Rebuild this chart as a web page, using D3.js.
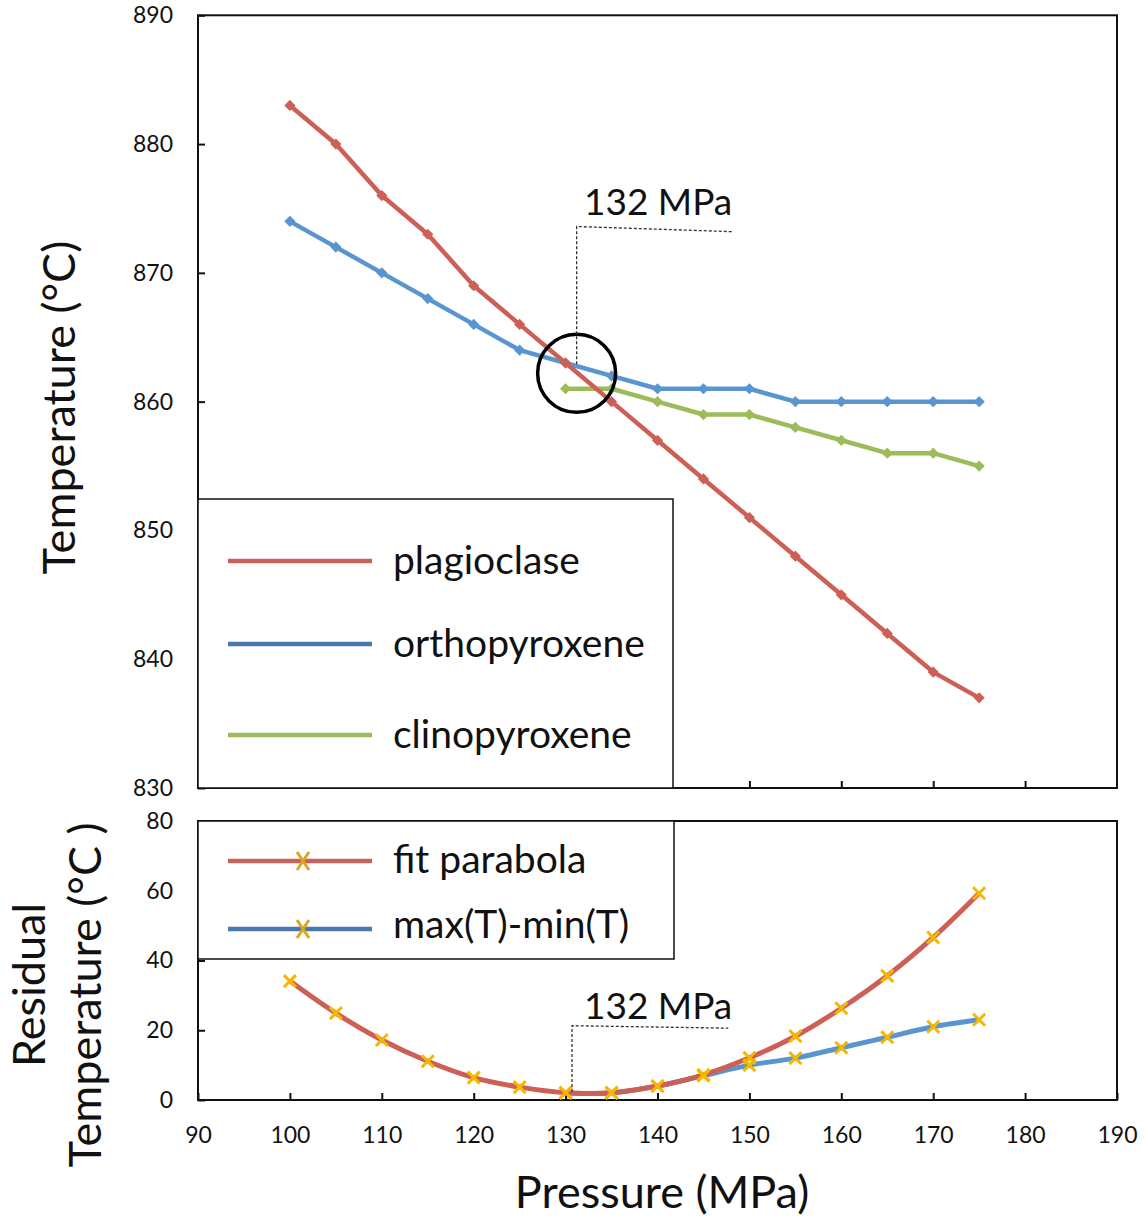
<!DOCTYPE html>
<html>
<head>
<meta charset="utf-8">
<script src="https://cdn.jsdelivr.net/npm/d3@7/dist/d3.min.js"></script>
<style>
  html, body { margin: 0; padding: 0; background: #fff; }
  svg { display: block; font-family: Lato, "Open Sans", sans-serif; }
</style>
</head>
<body>
<svg id="chart" width="1145" height="1219"></svg>
<script>
// Equilibrium temperatures of each mineral against pressure
const pressures = [100, 105, 110, 115, 120, 125, 130, 135, 140, 145, 150, 155, 160, 165, 170, 175];
const plagioclase   = [883, 880, 876, 873, 869, 866, 863, 860, 857, 854, 851, 848, 845, 842, 839, 837];
const orthopyroxene = [874, 872, 870, 868, 866, 864, 863, 862, 861, 861, 861, 860, 860, 860, 860, 860];
const clinoPressures = [130, 135, 140, 145, 150, 155, 160, 165, 170, 175];
const clinopyroxene  = [861, 861, 860, 859, 859, 858, 857, 856, 856, 855];

// Residual temperature
const fitParabola = [34.1, 24.9, 17.2, 11.1, 6.4, 3.7, 2.1, 2.1, 4.0, 7.2, 12.1, 18.3, 26.3, 35.6, 46.6, 59.3];
const rangePressures = [130, 135, 140, 145, 150, 155, 160, 165, 170, 175];
const maxMinT = [2, 2, 4, 7, 10, 12, 15, 18, 21, 23];

// Tick values
const pressureTicks = [90, 100, 110, 120, 130, 140, 150, 160, 170, 180, 190];
const temperatureTicks = [830, 840, 850, 860, 870, 880, 890];
const residualTicks = [0, 20, 40, 60, 80];

// Annotation for the crossing point
const crossLabel = "132 MPa";
const crossLabelP = 132;

const colors = {
  plag: "#cd6056", opx: "#5a95cf", cpx: "#9cbc5a",
  plagKey: "#c9625b", opxKey: "#4a78ad", cpxKey: "#9dba5f",
  marker: "#f5b800", markerKey: "#dba722"
};

const svg = d3.select("#chart");
const left = 198, right = 1117;

const x = d3.scaleLinear().domain([90, 190]).range([left, right]);
const yTop = d3.scaleLinear().domain([830, 890]).range([788, 15.3]);
const yBot = d3.scaleLinear().domain([0, 80]).range([1100, 821]);

function frame(y0, y1) {
  svg.append("rect")
    .attr("x", left).attr("y", y0)
    .attr("width", right - left).attr("height", y1 - y0)
    .attr("fill", "none").attr("stroke", "#111").attr("stroke-width", 2);
}

function styleAxis(g) {
  g.select(".domain").remove();
  g.selectAll(".tick line").attr("stroke", "#111").attr("stroke-width", 2);
  g.selectAll(".tick text").attr("fill", "#111")
    .style("font-size", "23px").style("font-family", "Lato, sans-serif");
}

// ---------- Top panel ----------
svg.append("g")
  .attr("transform", `translate(${left},0)`)
  .call(d3.axisLeft(yTop).tickValues(temperatureTicks).tickSize(-7).tickPadding(25).tickFormat(d3.format("d")))
  .call(styleAxis);

svg.append("g")
  .attr("transform", `translate(0,${yTop.range()[0]})`)
  .call(d3.axisBottom(x).tickValues(pressureTicks.slice(1, -1)).tickSize(-7).tickFormat(""))
  .call(styleAxis);

frame(yTop.range()[1], yTop.range()[0]);

const lineTop = (xs, ys) => d3.line().x((d, i) => x(xs[i])).y(d => yTop(d))(ys);
const diamond = d3.symbol().type(d3.symbolDiamond2).size(80);

function topSeries(xs, ys, color) {
  svg.append("path").attr("d", lineTop(xs, ys))
    .attr("fill", "none").attr("stroke", color).attr("stroke-width", 4.5)
    .attr("stroke-linejoin", "round");
  svg.append("g").selectAll("path").data(ys).join("path")
    .attr("d", diamond)
    .attr("transform", (d, i) => `translate(${x(xs[i])},${yTop(d)})`)
    .attr("fill", color);
}

topSeries(pressures, orthopyroxene, colors.opx);
topSeries(clinoPressures, clinopyroxene, colors.cpx);
topSeries(pressures, plagioclase, colors.plag);

// Legend (top)
const legTop = svg.append("g");
legTop.append("rect").attr("x", left).attr("y", 499).attr("width", 475).attr("height", 289)
  .attr("fill", "#fff").attr("stroke", "#111").attr("stroke-width", 1.5);
[
  { name: "plagioclase", color: colors.plagKey, y: 561 },
  { name: "orthopyroxene", color: colors.opxKey, y: 644 },
  { name: "clinopyroxene", color: colors.cpxKey, y: 735 }
].forEach(d => {
  legTop.append("line").attr("x1", 228).attr("x2", 372).attr("y1", d.y).attr("y2", d.y)
    .attr("stroke", d.color).attr("stroke-width", 4.5);
  legTop.append("text").attr("x", 393).attr("y", d.y + 13)
    .style("font-size", "39px").attr("fill", "#111").text(d.name);
});

// Crossing annotation (top)
svg.append("circle")
  .attr("cx", x(131.2)).attr("cy", yTop(862.2)).attr("r", 39)
  .attr("fill", "none").attr("stroke", "#000").attr("stroke-width", 3.5);
svg.append("path")
  .attr("d", d3.line()([[x(131.2), yTop(862.9)], [x(131.2), yTop(873.6)], [x(148.1), yTop(873.2)]]))
  .attr("fill", "none").attr("stroke", "#333").attr("stroke-width", 1.3).attr("stroke-dasharray", "3,2");
svg.append("text").attr("x", x(crossLabelP)).attr("y", yTop(874.5))
  .style("font-size", "37px").attr("fill", "#111").text(crossLabel);

svg.append("text")
  .attr("transform", `translate(75,${(yTop.range()[0] + yTop.range()[1]) / 2 + 6}) rotate(-90)`)
  .attr("text-anchor", "middle")
  .style("font-size", "45px").attr("fill", "#111").text("Temperature (°C)");

// ---------- Bottom panel ----------
svg.append("g")
  .attr("transform", `translate(${left},0)`)
  .call(d3.axisLeft(yBot).tickValues(residualTicks).tickSize(-7).tickPadding(25))
  .call(styleAxis);

svg.append("g")
  .attr("transform", `translate(0,${yBot.range()[0]})`)
  .call(d3.axisBottom(x).tickValues(pressureTicks).tickSize(-7).tickPadding(27))
  .call(styleAxis);

frame(yBot.range()[1], yBot.range()[0]);

const smooth = (xs, ys) => d3.line().curve(d3.curveCatmullRom.alpha(0.5))
  .x((d, i) => x(xs[i])).y(d => yBot(d))(ys);

svg.append("path").attr("d", smooth(rangePressures, maxMinT))
  .attr("fill", "none").attr("stroke", colors.opx).attr("stroke-width", 5);
svg.append("path").attr("d", smooth(pressures, fitParabola))
  .attr("fill", "none").attr("stroke", colors.plag).attr("stroke-width", 5);

function crosses(xs, ys, color) {
  svg.append("g").selectAll("path").data(ys).join("path")
    .attr("d", "M-6,-6L6,6M-6,6L6,-6")
    .attr("transform", (d, i) => `translate(${x(xs[i])},${yBot(d)})`)
    .attr("stroke", color).attr("stroke-width", 3).attr("fill", "none");
}
crosses(rangePressures, maxMinT, colors.marker);
crosses(pressures, fitParabola, colors.marker);

// Legend (bottom)
const legBot = svg.append("g");
legBot.append("rect").attr("x", left).attr("y", 821).attr("width", 476).attr("height", 138)
  .attr("fill", "#fff").attr("stroke", "#111").attr("stroke-width", 1.5);
[
  { name: "fit parabola", color: colors.plagKey, y: 861, dy: 12 },
  { name: "max(T)-min(T)", color: colors.opxKey, y: 929, dy: 9 }
].forEach(d => {
  legBot.append("line").attr("x1", 228).attr("x2", 372).attr("y1", d.y).attr("y2", d.y)
    .attr("stroke", d.color).attr("stroke-width", 4.5);
  legBot.append("path").attr("d", "M-6,-9L6,9M-6,9L6,-9")
    .attr("transform", `translate(303,${d.y})`)
    .attr("stroke", colors.markerKey).attr("stroke-width", 3).attr("fill", "none");
  legBot.append("text").attr("x", 393).attr("y", d.y + d.dy)
    .style("font-size", "39px").attr("fill", "#111").text(d.name);
});

// Crossing annotation (bottom)
svg.append("path")
  .attr("d", d3.line()([[x(130.7), yBot(2.3)], [x(130.7), yBot(21.3)], [x(147.7), yBot(20.6)]]))
  .attr("fill", "none").attr("stroke", "#333").attr("stroke-width", 1.3).attr("stroke-dasharray", "3,2");
svg.append("text").attr("x", x(crossLabelP)).attr("y", yBot(23.1))
  .style("font-size", "37px").attr("fill", "#111").text(crossLabel);

svg.append("text")
  .attr("transform", `translate(45,985) rotate(-90)`)
  .attr("text-anchor", "middle")
  .style("font-size", "45px").attr("fill", "#111").text("Residual");
svg.append("text")
  .attr("transform", `translate(101,995) rotate(-90)`)
  .attr("text-anchor", "middle")
  .style("font-size", "45px").attr("fill", "#111").text("Temperature (°C )");

svg.append("text")
  .attr("x", 662).attr("y", 1208)
  .attr("text-anchor", "middle")
  .style("font-size", "45px").attr("fill", "#111").text("Pressure (MPa)");
</script>
</body>
</html>
